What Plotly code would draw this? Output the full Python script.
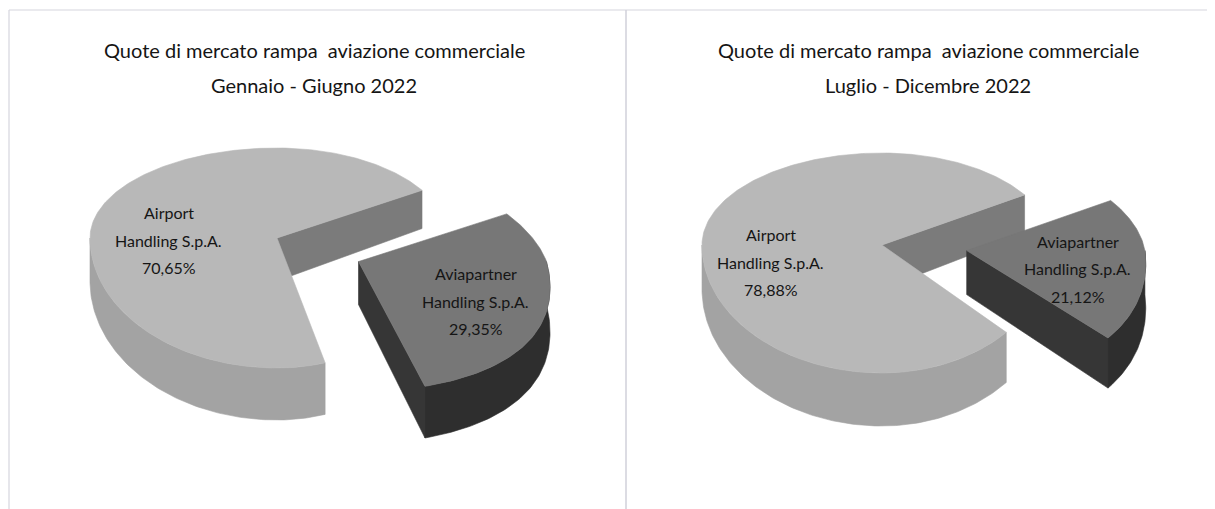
import numpy as np
import plotly.graph_objects as go

# ---------------- data ----------------
companies = ["Airport Handling S.p.A.", "Aviapartner Handling S.p.A."]
label_lines = [["Airport", "Handling S.p.A."], ["Aviapartner", "Handling S.p.A."]]
share_h1 = [70.65, 29.35]
share_h2 = [78.88, 21.12]
title_main = "Quote di mercato rampa  aviazione commerciale"
period_h1 = "Gennaio - Giugno 2022"
period_h2 = "Luglio - Dicembre 2022"
exploded = [False, True]

# ---------------- styling / layout ----------------
W, H = 1215, 509
PAD = 8  # browser body margin: keep page pixels aligned with the reference
FONT = "Lato, sans-serif"
top_colors = ["#b8b8b8", "#777777"]
side_colors = ["#a3a3a3", "#2e2e2e"]
cut_colors = ["#7b7b7b", "#363636"]
label_dy = [22, 11]

panels = [
    dict(shares=share_h1, period=period_h1, title_x=314,
         cx=277, cy=238, al=187, ar=171, bt=90, bb=130, h0=43, dh=9,
         start=32.0, explode=0.51, bulge=68),
    dict(shares=share_h2, period=period_h2, title_x=928,
         cx=882, cy=245, al=180, ar=170, bt=92, bb=128, h0=44, dh=9,
         start=33.0, explode=0.50, bulge=33),
]


def radii(g, th, near=False):
    c, s = np.cos(th), np.sin(th)
    a = g["ar"] if c >= 0 else g["al"]
    if near and c >= 0:
        a += g["bulge"] * ((1.0 - s) / 2.0) ** 2
    b = g["bt"] if s >= 0 else g["bb"]
    return a, b, c, s


def point(g, th_deg, rho, z, off, near=False):
    th = np.radians(th_deg)
    a, b, c, s = radii(g, th, near)
    x = g["cx"] + off[0] + rho * a * c
    y = g["cy"] + off[1] - rho * b * s
    depth = g["h0"] - g["dh"] * rho * s
    return x, y + z * depth


def arc(g, t_from, t_to, z, off, near, step=1.0):
    n = max(2, int(abs(t_to - t_from) / step) + 1)
    ts = np.linspace(t_from, t_to, n)
    pts = [point(g, t, 1.0, z, off, near) for t in ts]
    return [p[0] for p in pts], [p[1] for p in pts]


def poly(fig, xs, ys, color):
    xs = list(xs) + [xs[0]]
    ys = list(ys) + [ys[0]]
    fig.add_trace(go.Scatter(x=xs, y=ys, mode="lines", fill="toself",
                             fillcolor=color, line=dict(color=color, width=0.6),
                             hoverinfo="skip", showlegend=False))


fig = go.Figure()
annotations = []

for g in panels:
    shares = g["shares"]
    spans = {}
    cur = g["start"]
    for i in reversed(range(len(shares))):
        span = 360.0 * shares[i] / sum(shares)
        spans[i] = (cur - span, cur)
        cur -= span
    order = sorted(range(len(shares)), key=lambda i: exploded[i])
    for i in order:
        t0, t1 = spans[i]
        near = exploded[i]
        off = (0.0, 0.0)
        mid = 0.5 * (t0 + t1)
        if near:
            a, b, c, s = radii(g, np.radians(mid))
            off = (g["explode"] * a * c, -g["explode"] * b * s)
        # outer side (front half only)
        for k in range(-1, 3):
            lo = max(t0, -180 + 360 * k)
            hi = min(t1, 0 + 360 * k)
            if hi > lo:
                xt, yt = arc(g, lo, hi, 0, off, near)
                xb, yb = arc(g, hi, lo, 1, off, near)
                poly(fig, xt + xb, yt + yb, side_colors[i])
        # radial cut faces facing the viewer
        for t, sign in ((t0, 1), (t1, -1)):
            if np.cos(np.radians(t)) * sign > 0:
                p = [point(g, t, 0, 0, off, near), point(g, t, 1, 0, off, near),
                     point(g, t, 1, 1, off, near), point(g, t, 0, 1, off, near)]
                poly(fig, [q[0] for q in p], [q[1] for q in p], cut_colors[i])
        # top face
        xt, yt = arc(g, t0, t1, 0, off, near)
        cx0, cy0 = point(g, 0, 0, 0, off, near)
        poly(fig, [cx0] + xt, [cy0] + yt, top_colors[i])
        # label
        lx, ly = point(g, mid, 0.62, 0, off, near)
        ly += label_dy[i]
        pct = f"{shares[i]:.2f}".replace(".", ",") + "%"
        lines = label_lines[i] + [pct]
        for j, txt in enumerate(lines):
            annotations.append(dict(x=lx, y=ly + (j - 1) * 27.5, text=txt,
                                    xref="x", yref="y", showarrow=False,
                                    font=dict(family=FONT, size=16, color="#151515"),
                                    xanchor="center", yanchor="middle"))
    for j, txt in enumerate([title_main, g["period"]]):
        annotations.append(dict(x=g["title_x"], y=50 + j * 35, text=txt,
                                xref="x", yref="y", showarrow=False,
                                font=dict(family=FONT, size=20, color="#151515"),
                                xanchor="center", yanchor="middle"))

shapes = [
    dict(type="line", xref="x", yref="y", x0=9, x1=1223, y0=10, y1=10,
         line=dict(color="#d6d6de", width=1.2)),
    dict(type="line", xref="x", yref="y", x0=9, x1=9, y0=10, y1=517,
         line=dict(color="#d6d6de", width=1.2)),
    dict(type="line", xref="x", yref="y", x0=626, x1=626, y0=10, y1=517,
         line=dict(color="#d0d0da", width=1.5)),
]

fig.update_layout(
    width=W, height=H, margin=dict(l=0, r=0, t=0, b=0),
    paper_bgcolor="white", plot_bgcolor="white",
    xaxis=dict(range=[PAD, W + PAD], visible=False, fixedrange=True),
    yaxis=dict(range=[H + PAD, PAD], visible=False, fixedrange=True),
    annotations=annotations, shapes=shapes, showlegend=False,
)
fig.write_html("out.html")
